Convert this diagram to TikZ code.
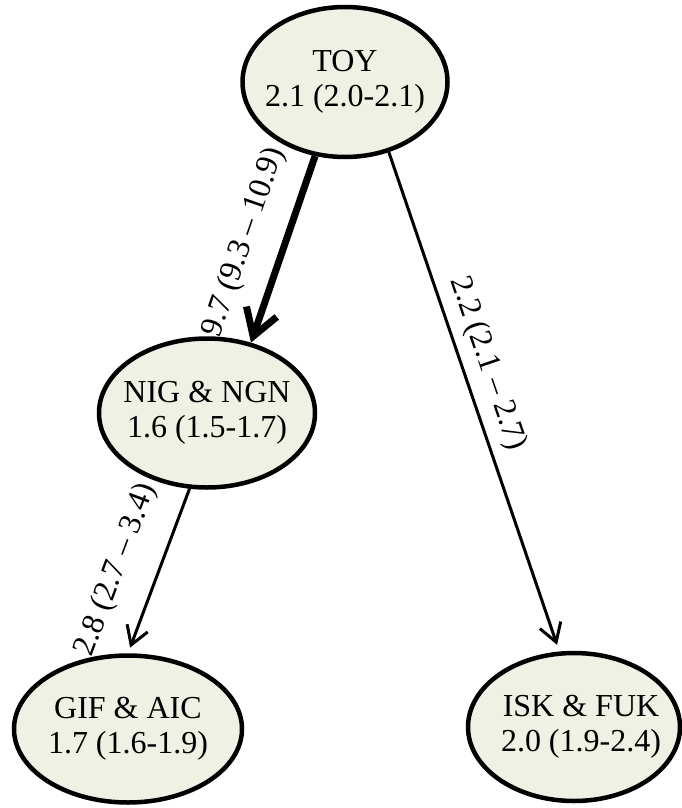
\documentclass[tikz,border=0pt]{standalone}
\usepackage{fontspec}
\setmainfont{Liberation Serif}
\usetikzlibrary{shapes.geometric,arrows.meta}
\definecolor{popfill}{RGB}{238,241,227}
\tikzset{
  pop/.style={ellipse, draw, line width=4.5pt, fill=popfill, inner xsep=-25pt, inner ysep=0pt, align=center},
  flow/.style={line width=3pt, -{Straight Barb[length=18pt,width=22pt]}},
  bigflow/.style={line width=7pt, -{Straight Barb[length=26pt,width=32pt]}},
  rate/.style={sloped, inner sep=0pt}
}
\begin{document}
\begin{tikzpicture}[x=1pt,y=1pt,font=\fontsize{32}{35}\selectfont]
  \useasboundingbox (0,0) rectangle (681,-808);
  % source
  \node[pop, minimum width=205pt, minimum height=150pt] at (345,-82) (TOY) {TOY\\2.1 (2.0-2.1)};
  % middle
  \node[pop, minimum width=216pt, minimum height=149pt] at (207,-413) (NIG) {NIG \& NGN\\1.6 (1.5-1.7)};
  % sinks
  \node[pop, minimum width=228pt, minimum height=147pt] at (128,-729) (GIF) {GIF \& AIC\\1.7 (1.6-1.9)};
  \node[pop, minimum width=212pt, minimum height=148pt] at (574,-727) (ISK) {\hspace*{14pt}ISK \& FUK\\\hspace*{14pt}2.0 (1.9-2.4)};
  % flows
  \draw[bigflow] (TOY.248) -- node[rate, pos=0.53, above=21pt] {9.7 (9.3 – 10.9)} (NIG.58);
  \draw[flow, shorten >=7pt] (TOY.302) -- node[rate, pos=0.44, above=9pt] {2.2 (2.1 – 2.7)} (ISK.101);
  \draw[flow, shorten >=6pt] (NIG.257) -- node[rate, pos=0.58, above=24pt] {2.8 (2.7 – 3.4)} (GIF.90);
\end{tikzpicture}
\end{document}
